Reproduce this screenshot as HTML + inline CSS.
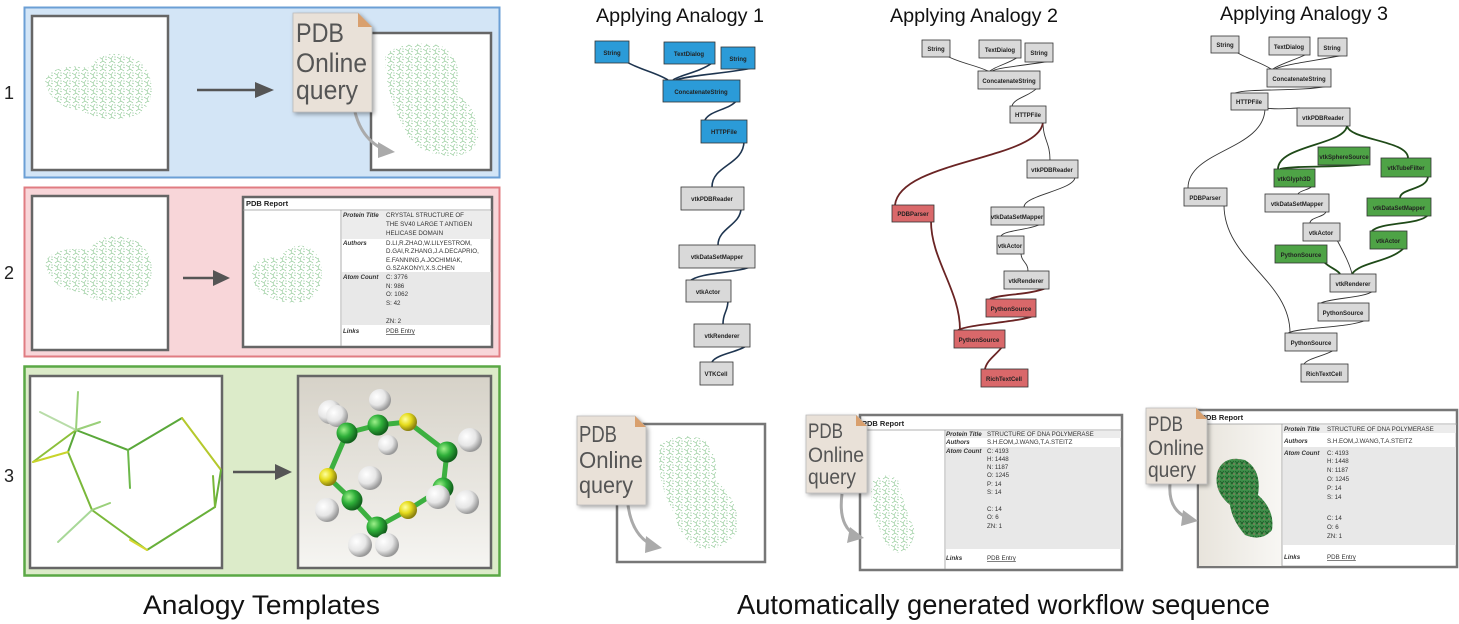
<!DOCTYPE html>
<html><head><meta charset="utf-8"><style>
html,body{margin:0;padding:0;background:#fff;}
svg{display:block;font-family:"Liberation Sans",sans-serif;}
.n{font-size:6px;font-weight:bold;fill:#222;text-anchor:middle;}
.s{font-size:6.2px;fill:#333;}
.b{font-size:6.2px;font-weight:bold;font-style:italic;fill:#333;}
.g{fill:#555;}
</style></head><body>
<svg width="1459" height="624" viewBox="0 0 1459 624" xmlns="http://www.w3.org/2000/svg">
<defs>
<pattern id="mol" width="9" height="8" patternUnits="userSpaceOnUse">
<path d="M0 1 L3 3 L5 0 M1 7 L4 5 L7 7 M3 3 L4 5 M6 3 L8 4" stroke="#86c48c" stroke-width="0.6" fill="none"/>
<circle cx="7" cy="1" r="0.5" fill="#5aa66a"/>
</pattern>
<pattern id="mol2" width="5" height="5" patternUnits="userSpaceOnUse">
<rect width="5" height="5" fill="#3f8f4a"/>
<path d="M0 1 L2 3 L4 1 M1 4 L3 3" stroke="#1f5a28" stroke-width="0.8" fill="none"/>
<circle cx="4" cy="4" r="0.7" fill="#b0706a"/>
</pattern>
<radialGradient id="gG" cx="35%" cy="35%" r="65%"><stop offset="0" stop-color="#9ef08a"/><stop offset="0.5" stop-color="#2fb03a"/><stop offset="1" stop-color="#12601c"/></radialGradient>
<radialGradient id="gY" cx="35%" cy="35%" r="65%"><stop offset="0" stop-color="#ffffa0"/><stop offset="0.5" stop-color="#e6dc1c"/><stop offset="1" stop-color="#8a8010"/></radialGradient>
<radialGradient id="gW" cx="35%" cy="35%" r="65%"><stop offset="0" stop-color="#ffffff"/><stop offset="0.6" stop-color="#e6e6e6"/><stop offset="1" stop-color="#999"/></radialGradient>
<linearGradient id="bg3" x1="0" y1="0" x2="0" y2="1"><stop offset="0" stop-color="#d6d2c8"/><stop offset="1" stop-color="#f6f5f2"/></linearGradient>
<linearGradient id="bg4" x1="0" y1="0" x2="1" y2="0"><stop offset="0" stop-color="#e8e4dc"/><stop offset="1" stop-color="#f8f7f4"/></linearGradient>
<filter id="sh" x="-20%" y="-20%" width="150%" height="150%"><feDropShadow dx="2" dy="2" stdDeviation="2" flood-color="#000" flood-opacity="0.35"/></filter>
</defs>

<text x="4" y="99" font-size="18" fill="#222">1</text>
<text x="4" y="279" font-size="18" fill="#222">2</text>
<text x="4" y="482" font-size="18" fill="#222">3</text>

<!-- Panel 1 -->
<rect x="24.5" y="7.5" width="475" height="170" fill="#d3e5f6" stroke="#6b9fd5" stroke-width="2"/>
<rect x="32" y="16" width="136" height="154" fill="#fff" stroke="#666" stroke-width="2.5"/>
<path d="M45 80 Q55 62 90 68 Q100 50 125 55 Q150 60 152 90 Q150 115 125 118 Q100 122 80 110 Q50 108 45 80 Z" fill="url(#mol)"/>
<line x1="197" y1="90" x2="258" y2="90" stroke="#555" stroke-width="2.5"/>
<polygon points="255,82 274,90 255,98" fill="#555"/>
<rect x="371" y="33" width="120" height="137" fill="#fff" stroke="#666" stroke-width="2.5"/>
<path d="M385 55 Q400 40 440 45 Q465 60 458 95 Q480 110 478 140 Q470 160 440 155 Q410 150 400 120 Q385 90 385 55 Z" fill="url(#mol)"/>
<path d="M355 112 Q362 140 385 150" stroke="#aaa" stroke-width="3" fill="none"/>
<polygon points="378,142 395,152 378,158" fill="#aaa"/>
<g filter="url(#sh)"><path d="M293 13 H358 L372 27 V112 H293 Z" fill="#e9e1d8" stroke="#bbb" stroke-width="0.8"/></g>
<polygon points="358,13 372,27 358,27" fill="#d9a06e"/>
<text x="296" y="42" font-size="27" class="g" textLength="48" lengthAdjust="spacingAndGlyphs">PDB</text>
<text x="296" y="72" font-size="27" class="g" textLength="71" lengthAdjust="spacingAndGlyphs">Online</text>
<text x="296" y="99" font-size="27" class="g" textLength="62" lengthAdjust="spacingAndGlyphs">query</text>

<!-- Panel 2 -->
<rect x="24.5" y="187.5" width="475" height="169" fill="#f8d6d9" stroke="#e07c82" stroke-width="2"/>
<rect x="32" y="196" width="136" height="154" fill="#fff" stroke="#666" stroke-width="2.5"/>
<path d="M45 262 Q55 245 90 250 Q100 232 125 237 Q150 242 152 270 Q150 298 125 300 Q100 305 80 292 Q50 290 45 262 Z" fill="url(#mol)"/>
<line x1="183" y1="278" x2="216" y2="278" stroke="#555" stroke-width="2.5"/>
<polygon points="213,270 230,278 213,286" fill="#555"/>
<rect x="243" y="197" width="249" height="150" fill="#fff" stroke="#666" stroke-width="2.5"/>
<text x="246" y="206" font-size="7.5" font-weight="bold" fill="#222">PDB Report</text>
<line x1="243" y1="210" x2="492" y2="210" stroke="#999" stroke-width="0.8"/>
<line x1="341" y1="210" x2="341" y2="346" stroke="#999" stroke-width="0.8"/>
<rect x="342" y="211" width="149" height="28" fill="#ececec"/>
<rect x="342" y="272" width="149" height="53" fill="#e8e8e8"/>
<path d="M252 268 Q258 255 280 258 Q288 244 305 246 Q322 252 322 275 Q320 300 300 302 Q280 304 268 296 Q252 292 252 268 Z" fill="url(#mol)"/>
<text x="343" y="217" class="b">Protein Title</text>
<text x="386" y="217" class="s">CRYSTAL STRUCTURE OF</text>
<text x="386" y="226" class="s">THE SV40 LARGE T ANTIGEN</text>
<text x="386" y="235" class="s">HELICASE DOMAIN</text>
<text x="343" y="245" class="b">Authors</text>
<text x="386" y="245" class="s">D.LI,R.ZHAO,W.LILYESTROM,</text>
<text x="386" y="253" class="s">D.GAI,R.ZHANG,J.A.DECAPRIO,</text>
<text x="386" y="262" class="s">E.FANNING,A.JOCHIMIAK,</text>
<text x="386" y="270" class="s">G.SZAKONYI,X.S.CHEN</text>
<text x="343" y="279" class="b">Atom Count</text>
<text x="386" y="279" class="s">C: 3776</text>
<text x="386" y="288" class="s">N: 986</text>
<text x="386" y="296" class="s">O: 1062</text>
<text x="386" y="305" class="s">S: 42</text>
<text x="386" y="323" class="s">ZN: 2</text>
<text x="343" y="333" class="b">Links</text>
<text x="386" y="333" class="s" fill="#2a5bb0" text-decoration="underline">PDB Entry</text>

<!-- Panel 3 -->
<rect x="24.5" y="366.5" width="475" height="209" fill="#dcebc9" stroke="#5aa845" stroke-width="2.5"/>
<rect x="30" y="376" width="192" height="192" fill="#fff" stroke="#666" stroke-width="2.5"/>
<g stroke-width="2" fill="none" stroke-linecap="round">
<polyline points="68,452 76,430 128,450 182,418" stroke="#5aa83a"/>
<polyline points="182,418 221,470" stroke="#b5c92c"/>
<polyline points="221,470 215,507 147,550" stroke="#68b03a"/>
<polyline points="147,550 92,510 68,452" stroke="#7ab83a"/>
<line x1="147" y1="550" x2="130" y2="540" stroke="#d8d830"/>
<line x1="33" y1="462" x2="76" y2="430" stroke="#8cc03a"/>
<line x1="33" y1="462" x2="68" y2="452" stroke="#c8d42a"/>
<line x1="76" y1="430" x2="78" y2="392" stroke="#9ad07a"/>
<line x1="76" y1="430" x2="40" y2="412" stroke="#b8dca8"/>
<line x1="76" y1="430" x2="100" y2="422" stroke="#9ad07a"/>
<line x1="128" y1="450" x2="130" y2="488" stroke="#6cb84a"/>
<line x1="92" y1="510" x2="58" y2="542" stroke="#a8d898"/>
<line x1="92" y1="510" x2="110" y2="503" stroke="#9ad07a"/>
<line x1="215" y1="507" x2="213" y2="476" stroke="#7ab83a"/>
</g>
<line x1="233" y1="472" x2="278" y2="472" stroke="#555" stroke-width="2.5"/>
<polygon points="275,464 292,472 275,480" fill="#555"/>
<rect x="298" y="376" width="193" height="192" fill="url(#bg3)" stroke="#666" stroke-width="2.5"/>
<polyline points="328,477 347,433 378,425 408,422 447,452 443,488 408,510 377,527 352,500 328,477" fill="none" stroke="#3cb040" stroke-width="5"/>
<circle cx="330" cy="412" r="12" fill="url(#gW)"/>
<circle cx="337" cy="416" r="11" fill="url(#gW)"/>
<circle cx="380" cy="400" r="11" fill="url(#gW)"/>
<circle cx="470" cy="440" r="12" fill="url(#gW)"/>
<circle cx="370" cy="478" r="12" fill="url(#gW)"/>
<circle cx="347" cy="433" r="10.5" fill="url(#gG)"/>
<circle cx="378" cy="425" r="10.5" fill="url(#gG)"/>
<circle cx="388" cy="445" r="10" fill="url(#gW)"/>
<circle cx="408" cy="422" r="9" fill="url(#gY)"/>
<circle cx="447" cy="452" r="10.5" fill="url(#gG)"/>
<circle cx="443" cy="488" r="10.5" fill="url(#gG)"/>
<circle cx="328" cy="477" r="9" fill="url(#gY)"/>
<circle cx="352" cy="500" r="10.5" fill="url(#gG)"/>
<circle cx="327" cy="510" r="12" fill="url(#gW)"/>
<circle cx="438" cy="497" r="12" fill="url(#gW)"/>
<circle cx="467" cy="502" r="12" fill="url(#gW)"/>
<circle cx="408" cy="510" r="9" fill="url(#gY)"/>
<circle cx="377" cy="527" r="10.5" fill="url(#gG)"/>
<circle cx="360" cy="545" r="12" fill="url(#gW)"/>
<circle cx="387" cy="545" r="12" fill="url(#gW)"/>

<text x="143" y="614" font-size="27" fill="#111" textLength="237" lengthAdjust="spacingAndGlyphs">Analogy Templates</text>

<text x="596" y="22" font-size="19" fill="#111" textLength="168" lengthAdjust="spacingAndGlyphs">Applying Analogy 1</text>
<text x="890" y="22" font-size="19" fill="#111" textLength="168" lengthAdjust="spacingAndGlyphs">Applying Analogy 2</text>
<text x="1220" y="20" font-size="19" fill="#111" textLength="168" lengthAdjust="spacingAndGlyphs">Applying Analogy 3</text>

<g fill="none" stroke="#1e3550" stroke-width="1.6">
<path d="M625 61 C640 70,655 72,668 80"/>
<path d="M712 63 C700 72,680 75,673 80"/>
<path d="M752 68 C730 73,690 75,676 80"/>
<path d="M737 100 C730 110,710 110,705 120"/>
<path d="M744 141 C744 165,712 165,712 187"/>
<path d="M741 208 C741 225,718 228,718 245"/>
<path d="M752 266 C740 273,700 272,690 281"/>
<path d="M728 300 C728 312,723 312,723 324"/>
<path d="M747 345 C740 352,716 354,712 362"/>
</g>
<g fill="none" stroke="#333" stroke-width="0.9">
<path d="M947 56 C960 63,975 65,988 71"/>
<path d="M1018 57 C1010 63,996 66,990 71"/>
<path d="M1050 61 C1030 65,1000 67,992 71"/>
<path d="M1037 88 C1030 96,1014 98,1012 106"/>
<path d="M1043 122 C1043 140,1050 142,1050 160"/>
<path d="M1075 177 C1075 190,1024 195,1024 207"/>
<path d="M1041 224 C1030 230,1005 230,1001 236"/>
<path d="M1021 253 C1021 262,1028 262,1028 271"/>
</g>
<g fill="none" stroke="#6a2424" stroke-width="1.8">
<path d="M1043 122 C1040 160,900 160,895 205"/>
<path d="M1046 288 C1030 295,1000 294,990 299"/>
<path d="M931 221 C931 260,960 290,960 330"/>
<path d="M1033 316 C1020 322,970 324,958 330"/>
<path d="M1002 347 C995 356,987 360,985 369"/>
</g>
<g fill="none" stroke="#333" stroke-width="0.9">
<path d="M1236 52 C1250 60,1262 63,1271 69"/>
<path d="M1307 54 C1295 60,1280 64,1273 69"/>
<path d="M1344 55 C1320 60,1285 64,1275 69"/>
<path d="M1328 86 C1300 92,1250 88,1235 93"/>
<path d="M1265 108 C1280 110,1290 108,1300 108"/>
<path d="M1265 108 C1265 150,1188 150,1188 188"/>
<path d="M1312 186 C1310 190,1300 190,1298 194"/>
<path d="M1326 211 C1326 217,1310 217,1310 223"/>
<path d="M1337 240 C1345 255,1350 265,1352 274"/>
<path d="M1373 291 C1365 298,1330 298,1321 303"/>
<path d="M1366 320 C1350 328,1300 327,1288 333"/>
<path d="M1224 205 C1224 260,1290 280,1290 333"/>
<path d="M1334 350 C1325 356,1308 358,1304 364"/>
</g>
<g fill="none" stroke="#1f4a18" stroke-width="1.8">
<path d="M1347 125 C1347 145,1278 145,1278 169"/>
<path d="M1347 125 C1347 140,1408 140,1408 158"/>
<path d="M1367 164 C1340 168,1300 165,1280 169"/>
<path d="M1428 176 C1428 190,1400 188,1400 198"/>
<path d="M1428 215 C1420 225,1380 222,1372 231"/>
<path d="M1404 248 C1390 262,1360 262,1352 274"/>
<path d="M1324 262 C1330 268,1338 270,1340 274"/>
</g>

<g stroke="#333" stroke-width="0.8">
<rect x="595" y="41" width="34" height="22" fill="#2b9bd8"/>
<rect x="664" y="42" width="51" height="22" fill="#2b9bd8"/>
<rect x="721" y="47" width="34" height="22" fill="#2b9bd8"/>
<rect x="663" y="80" width="77" height="22" fill="#2b9bd8"/>
<rect x="701" y="120" width="46" height="23" fill="#2b9bd8"/>
<rect x="681" y="187" width="63" height="23" fill="#d9d9d9"/>
<rect x="679" y="245" width="76" height="23" fill="#d9d9d9"/>
<rect x="686" y="280" width="45" height="22" fill="#d9d9d9"/>
<rect x="694" y="324" width="56" height="23" fill="#d9d9d9"/>
<rect x="700" y="362" width="33" height="23" fill="#d9d9d9"/>
<rect x="922" y="40" width="28" height="17" fill="#d9d9d9"/>
<rect x="979" y="40" width="42" height="18" fill="#d9d9d9"/>
<rect x="1025" y="43" width="28" height="19" fill="#d9d9d9"/>
<rect x="978" y="71" width="62" height="18" fill="#d9d9d9"/>
<rect x="1010" y="106" width="36" height="17" fill="#d9d9d9"/>
<rect x="1027" y="160" width="51" height="18" fill="#d9d9d9"/>
<rect x="892" y="205" width="42" height="17" fill="#d9686a"/>
<rect x="991" y="207" width="53" height="18" fill="#d9d9d9"/>
<rect x="997" y="236" width="27" height="18" fill="#d9d9d9"/>
<rect x="1004" y="271" width="45" height="18" fill="#d9d9d9"/>
<rect x="986" y="299" width="50" height="18" fill="#d9686a"/>
<rect x="954" y="330" width="51" height="18" fill="#d9686a"/>
<rect x="981" y="369" width="47" height="18" fill="#d9686a"/>
<rect x="1211" y="36" width="28" height="17" fill="#d9d9d9"/>
<rect x="1269" y="37" width="41" height="18" fill="#d9d9d9"/>
<rect x="1318" y="38" width="29" height="18" fill="#d9d9d9"/>
<rect x="1267" y="69" width="64" height="18" fill="#d9d9d9"/>
<rect x="1231" y="93" width="37" height="17" fill="#d9d9d9"/>
<rect x="1297" y="108" width="53" height="18" fill="#d9d9d9"/>
<rect x="1318" y="147" width="52" height="18" fill="#4ea346"/>
<rect x="1381" y="158" width="50" height="19" fill="#4ea346"/>
<rect x="1274" y="169" width="41" height="18" fill="#4ea346"/>
<rect x="1184" y="188" width="43" height="18" fill="#d9d9d9"/>
<rect x="1265" y="194" width="64" height="18" fill="#d9d9d9"/>
<rect x="1367" y="198" width="64" height="18" fill="#4ea346"/>
<rect x="1303" y="223" width="37" height="18" fill="#d9d9d9"/>
<rect x="1370" y="231" width="37" height="18" fill="#4ea346"/>
<rect x="1275" y="245" width="52" height="18" fill="#4ea346"/>
<rect x="1330" y="274" width="46" height="18" fill="#d9d9d9"/>
<rect x="1318" y="303" width="51" height="18" fill="#d9d9d9"/>
<rect x="1285" y="333" width="52" height="18" fill="#d9d9d9"/>
<rect x="1301" y="364" width="47" height="18" fill="#d9d9d9"/>
</g>
<g>
<text class="n" x="612" y="55">String</text>
<text class="n" x="689" y="56">TextDialog</text>
<text class="n" x="738" y="61">String</text>
<text class="n" x="701" y="94">ConcatenateString</text>
<text class="n" x="724" y="134">HTTPFile</text>
<text class="n" x="712" y="201">vtkPDBReader</text>
<text class="n" x="717" y="259">vtkDataSetMapper</text>
<text class="n" x="708" y="294">vtkActor</text>
<text class="n" x="722" y="338">vtkRenderer</text>
<text class="n" x="716" y="376">VTKCell</text>

<text class="n" x="936" y="51" font-size="5">String</text>
<text class="n" x="1000" y="52" font-size="5">TextDialog</text>
<text class="n" x="1039" y="55" font-size="5">String</text>
<text class="n" x="1009" y="83" font-size="5">ConcatenateString</text>
<text class="n" x="1028" y="117" font-size="5">HTTPFile</text>
<text class="n" x="1052" y="172" font-size="5">vtkPDBReader</text>
<text class="n" x="913" y="216" font-size="5">PDBParser</text>
<text class="n" x="1017" y="219" font-size="5">vtkDataSetMapper</text>
<text class="n" x="1010" y="248" font-size="5">vtkActor</text>
<text class="n" x="1026" y="283" font-size="5">vtkRenderer</text>
<text class="n" x="1011" y="311" font-size="5">PythonSource</text>
<text class="n" x="979" y="342" font-size="5">PythonSource</text>
<text class="n" x="1004" y="381" font-size="5">RichTextCell</text>

<text class="n" x="1225" y="47" font-size="5">String</text>
<text class="n" x="1289" y="49" font-size="5">TextDialog</text>
<text class="n" x="1332" y="50" font-size="5">String</text>
<text class="n" x="1299" y="81" font-size="5">ConcatenateString</text>
<text class="n" x="1249" y="104" font-size="5">HTTPFile</text>
<text class="n" x="1323" y="120" font-size="5">vtkPDBReader</text>
<text class="n" x="1344" y="159" font-size="5">vtkSphereSource</text>
<text class="n" x="1406" y="170" font-size="5">vtkTubeFilter</text>
<text class="n" x="1294" y="181" font-size="5">vtkGlyph3D</text>
<text class="n" x="1205" y="200" font-size="5">PDBParser</text>
<text class="n" x="1297" y="206" font-size="5">vtkDataSetMapper</text>
<text class="n" x="1399" y="210" font-size="5">vtkDataSetMapper</text>
<text class="n" x="1321" y="235" font-size="5">vtkActor</text>
<text class="n" x="1388" y="243" font-size="5">vtkActor</text>
<text class="n" x="1301" y="257" font-size="5">PythonSource</text>
<text class="n" x="1353" y="286" font-size="5">vtkRenderer</text>
<text class="n" x="1343" y="315" font-size="5">PythonSource</text>
<text class="n" x="1311" y="345" font-size="5">PythonSource</text>
<text class="n" x="1324" y="376" font-size="5">RichTextCell</text>
</g>

<!-- Bottom result 1 -->
<rect x="617" y="424" width="148" height="138" fill="#fff" stroke="#777" stroke-width="2.5"/>
<path d="M660 445 Q680 430 705 440 Q720 460 715 480 Q740 500 738 530 Q725 552 700 548 Q680 540 675 515 Q655 480 660 445 Z" fill="url(#mol)"/>
<path d="M628 505 Q632 535 652 545" stroke="#aaa" stroke-width="3" fill="none"/>
<polygon points="646,536 662,548 645,553" fill="#aaa"/>
<g filter="url(#sh)"><path d="M577 416 H635 L646 427 V505 H577 Z" fill="#e9e1d8" stroke="#bbb" stroke-width="0.8"/></g>
<polygon points="635,416 646,427 635,427" fill="#d9a06e"/>
<text x="579" y="442" font-size="23" class="g" textLength="38" lengthAdjust="spacingAndGlyphs">PDB</text>
<text x="579" y="468" font-size="23" class="g" textLength="64" lengthAdjust="spacingAndGlyphs">Online</text>
<text x="579" y="493" font-size="23" class="g" textLength="54" lengthAdjust="spacingAndGlyphs">query</text>

<!-- Bottom result 2 -->
<rect x="860" y="415" width="262" height="155" fill="#fff" stroke="#777" stroke-width="2.5"/>
<text x="862" y="426" font-size="7.5" font-weight="bold" fill="#222">PDB Report</text>
<line x1="860" y1="430" x2="1122" y2="430" stroke="#999" stroke-width="0.8"/>
<line x1="945" y1="430" x2="945" y2="569" stroke="#999" stroke-width="0.8"/>
<rect x="946" y="431" width="175" height="7" fill="#ececec"/>
<rect x="946" y="447" width="175" height="102" fill="#e8e8e8"/>
<path d="M872 482 Q885 470 898 480 Q905 510 915 530 Q912 552 898 553 Q885 548 880 530 Q868 505 872 482 Z" fill="url(#mol)"/>
<text x="946" y="436" class="b">Protein Title</text><text x="987" y="436" class="s">STRUCTURE OF DNA POLYMERASE</text>
<text x="946" y="444" class="b">Authors</text><text x="987" y="444" class="s">S.H.EOM,J.WANG,T.A.STEITZ</text>
<text x="946" y="453" class="b">Atom Count</text><text x="987" y="453" class="s">C: 4193</text>
<text x="987" y="461" class="s">H: 1448</text>
<text x="987" y="469" class="s">N: 1187</text>
<text x="987" y="477" class="s">O: 1245</text>
<text x="987" y="486" class="s">P: 14</text>
<text x="987" y="494" class="s">S: 14</text>
<text x="987" y="511" class="s">C: 14</text>
<text x="987" y="519" class="s">O: 6</text>
<text x="987" y="528" class="s">ZN: 1</text>
<text x="946" y="560" class="b">Links</text><text x="987" y="560" class="s" fill="#2a5bb0" text-decoration="underline">PDB Entry</text>
<path d="M842 494 Q838 525 855 535" stroke="#aaa" stroke-width="3" fill="none"/>
<polygon points="850,527 864,538 847,543" fill="#aaa"/>
<g filter="url(#sh)"><path d="M806 415 H856 L867 426 V493 H806 Z" fill="#e9e1d8" stroke="#bbb" stroke-width="0.8"/></g>
<polygon points="856,415 867,426 856,426" fill="#d9a06e"/>
<text x="808" y="438" font-size="21" class="g" textLength="35" lengthAdjust="spacingAndGlyphs">PDB</text>
<text x="808" y="462" font-size="21" class="g" textLength="56" lengthAdjust="spacingAndGlyphs">Online</text>
<text x="808" y="484" font-size="21" class="g" textLength="48" lengthAdjust="spacingAndGlyphs">query</text>

<!-- Bottom result 3 -->
<rect x="1198" y="410" width="259" height="157" fill="#fff" stroke="#777" stroke-width="2.5"/>
<rect x="1199" y="424" width="83" height="142" fill="url(#bg4)"/>
<text x="1201" y="420" font-size="7.5" font-weight="bold" fill="#222">PDB Report</text>
<line x1="1198" y1="424" x2="1457" y2="424" stroke="#999" stroke-width="0.8"/>
<line x1="1282" y1="424" x2="1282" y2="566" stroke="#999" stroke-width="0.8"/>
<rect x="1283" y="425" width="173" height="8" fill="#ececec"/>
<rect x="1283" y="447" width="173" height="98" fill="#e8e8e8"/>
<path d="M1218 470 Q1225 455 1245 460 Q1262 470 1258 495 Q1275 510 1272 530 Q1262 542 1245 535 Q1232 520 1230 505 Q1212 490 1218 470 Z" fill="url(#mol2)"/>
<text x="1284" y="431" class="b">Protein Title</text><text x="1327" y="431" class="s">STRUCTURE OF DNA POLYMERASE</text>
<text x="1284" y="443" class="b">Authors</text><text x="1327" y="443" class="s">S.H.EOM,J.WANG,T.A.STEITZ</text>
<text x="1284" y="455" class="b">Atom Count</text><text x="1327" y="455" class="s">C: 4193</text>
<text x="1327" y="463" class="s">H: 1448</text>
<text x="1327" y="472" class="s">N: 1187</text>
<text x="1327" y="481" class="s">O: 1245</text>
<text x="1327" y="490" class="s">P: 14</text>
<text x="1327" y="499" class="s">S: 14</text>
<text x="1327" y="520" class="s">C: 14</text>
<text x="1327" y="529" class="s">O: 6</text>
<text x="1327" y="538" class="s">ZN: 1</text>
<text x="1284" y="559" class="b">Links</text><text x="1327" y="559" class="s" fill="#2a5bb0" text-decoration="underline">PDB Entry</text>
<path d="M1170 484 Q1168 510 1188 518" stroke="#aaa" stroke-width="3" fill="none"/>
<polygon points="1183,510 1198,521 1181,526" fill="#aaa"/>
<g filter="url(#sh)"><path d="M1146 408 H1196 L1207 419 V484 H1146 Z" fill="#e9e1d8" stroke="#bbb" stroke-width="0.8"/></g>
<polygon points="1196,408 1207,419 1196,419" fill="#d9a06e"/>
<text x="1148" y="431" font-size="21" class="g" textLength="35" lengthAdjust="spacingAndGlyphs">PDB</text>
<text x="1148" y="455" font-size="21" class="g" textLength="56" lengthAdjust="spacingAndGlyphs">Online</text>
<text x="1148" y="477" font-size="21" class="g" textLength="48" lengthAdjust="spacingAndGlyphs">query</text>

<text x="737" y="614" font-size="28" fill="#111" textLength="533" lengthAdjust="spacingAndGlyphs">Automatically generated workflow sequence</text>
</svg>
</body></html>
